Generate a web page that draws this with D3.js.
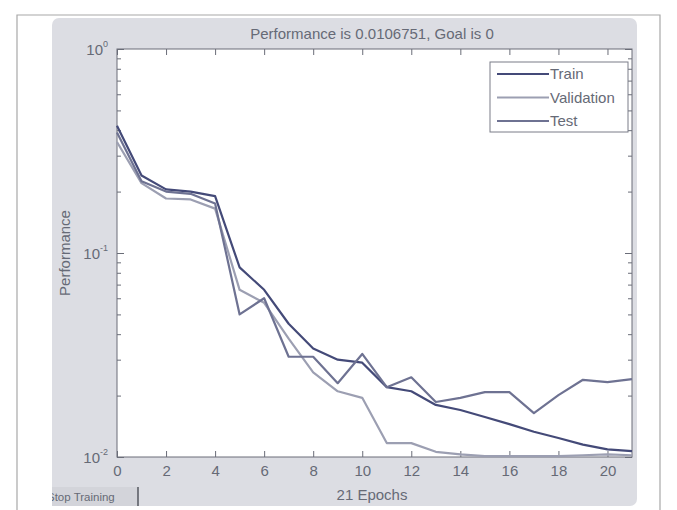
<!DOCTYPE html>
<html>
<head>
<meta charset="utf-8">
<script src="https://cdn.jsdelivr.net/npm/d3@7"></script>
<style>
  body { margin: 0; background: #fff; }
  text { font-family: "Liberation Sans", Arial, sans-serif; fill: #666a76; }
</style>
</head>
<body>
<div class="main"></div>
<script>
// data
const epochs = d3.range(0, 22);
const train = [0.42, 0.24, 0.205, 0.2, 0.19, 0.085, 0.066, 0.045, 0.034, 0.030, 0.029, 0.022, 0.021, 0.018, 0.017, 0.0157, 0.0145, 0.0133, 0.0124, 0.0115, 0.0109, 0.0106751];
const validation = [0.35, 0.22, 0.185, 0.183, 0.165, 0.066, 0.057, 0.038, 0.026, 0.021, 0.0195, 0.0117, 0.0117, 0.0106, 0.0103, 0.0101, 0.0101, 0.0101, 0.0101, 0.0102, 0.0103, 0.0102];
const test = [0.39, 0.225, 0.2, 0.195, 0.175, 0.05, 0.06, 0.031, 0.031, 0.023, 0.032, 0.022, 0.0246, 0.0186, 0.0195, 0.0208, 0.0208, 0.0164, 0.0201, 0.0239, 0.0233, 0.0241];
const seriesNames = ["Train", "Validation", "Test"];
const seriesColors = ["#444a78", "#9c9fb2", "#6e7292"];
const xTicks = [0, 2, 4, 6, 8, 10, 12, 14, 16, 18, 20];
const yMajor = [1, 0.1, 0.01];
const yMajorExp = ["0", "-1", "-2"];

const w = 677, h = 510;
const pLeft = 117, pRight = 632, pTop = 49, pBottom = 457;

const xScale = d3.scaleLinear().domain([0, 21]).range([pLeft, pRight]);
const yScale = d3.scaleLog().domain([0.01, 1]).range([pBottom, pTop]);

const svg = d3.select(".main")
  .append("svg")
  .attr("width", w)
  .attr("height", h);

// outer frame of the scan
svg.append("path")
  .attr("d", "M17,510 L17,15 L660,15 L660,510")
  .attr("fill", "none")
  .attr("stroke", "#a8a8a8")
  .attr("stroke-width", 1.2);

// grey figure panel
svg.append("rect")
  .attr("x", 52).attr("y", 18)
  .attr("width", 585).attr("height", 488)
  .attr("rx", 7)
  .attr("fill", "#dcdde3");

// plot area
svg.append("rect")
  .attr("x", pLeft).attr("y", pTop)
  .attr("width", pRight - pLeft).attr("height", pBottom - pTop)
  .attr("fill", "#fff")
  .attr("stroke", "#6a6d78")
  .attr("stroke-width", 1);

// x axis (bottom with labels, top without)
const xAxis = d3.axisBottom(xScale).tickValues(xTicks).tickSize(-6).tickPadding(8).tickFormat(d3.format("d"));
const gx = svg.append("g")
  .attr("transform", "translate(0," + pBottom + ")")
  .call(xAxis);
gx.selectAll("text").attr("font-size", 15).attr("font-family", null).style("fill", "#666a76");

svg.append("g")
  .attr("transform", "translate(0," + pTop + ")")
  .call(d3.axisTop(xScale).tickValues(xTicks).tickSize(-6).tickFormat(""));

// y axis minor/major ticks both sides
const yMinor = [];
[0.01, 0.1].forEach(b => { for (let k = 2; k <= 9; k++) yMinor.push(b * k); });
svg.append("g").attr("transform", "translate(" + pLeft + ",0)")
  .call(d3.axisLeft(yScale).tickValues(yMinor).tickSize(-4).tickFormat(""));
svg.append("g").attr("transform", "translate(" + pLeft + ",0)")
  .call(d3.axisLeft(yScale).tickValues(yMajor).tickSize(-7).tickFormat(""));
svg.append("g").attr("transform", "translate(" + pRight + ",0)")
  .call(d3.axisRight(yScale).tickValues(yMinor).tickSize(-4).tickFormat(""));
svg.append("g").attr("transform", "translate(" + pRight + ",0)")
  .call(d3.axisRight(yScale).tickValues(yMajor).tickSize(-7).tickFormat(""));

svg.selectAll(".domain").remove();
svg.selectAll(".tick line").attr("stroke", "#6a6d78");

// y tick labels 10^n
const ylab = svg.append("g").selectAll("text")
  .data(yMajor)
  .enter()
  .append("text")
  .attr("x", pLeft - 9)
  .attr("y", d => yScale(d) + 6)
  .attr("text-anchor", "end")
  .attr("font-size", 15);
ylab.append("tspan").text("10");
ylab.append("tspan")
  .attr("dy", -8)
  .attr("font-size", 9)
  .text((d, i) => yMajorExp[i]);

// lines
const allSeries = [train, validation, test];
const line = d3.line()
  .x((d, i) => xScale(epochs[i]))
  .y(d => yScale(d));

svg.append("g")
  .selectAll("path")
  .data(allSeries)
  .enter()
  .append("path")
  .attr("d", d => line(d))
  .attr("fill", "none")
  .attr("stroke", (d, i) => seriesColors[i])
  .attr("stroke-width", 2.2)
  .attr("stroke-linejoin", "round");

// legend
const lg = svg.append("g");
lg.append("rect")
  .attr("x", 490).attr("y", 62)
  .attr("width", 138).attr("height", 70)
  .attr("fill", "#fff")
  .attr("stroke", "#7a7d88");
seriesNames.forEach((name, i) => {
  const yy = 74 + i * 23.5;
  lg.append("line")
    .attr("x1", 497).attr("x2", 549)
    .attr("y1", yy).attr("y2", yy)
    .attr("stroke", seriesColors[i])
    .attr("stroke-width", 2.2);
  lg.append("text")
    .attr("x", 550).attr("y", yy + 5)
    .attr("font-size", 15)
    .text(name);
});

// titles
svg.append("text")
  .attr("x", 372).attr("y", 39)
  .attr("text-anchor", "middle")
  .attr("font-size", 15)
  .text("Performance is 0.0106751, Goal is 0");

svg.append("text")
  .attr("x", 372).attr("y", 500)
  .attr("text-anchor", "middle")
  .attr("font-size", 15)
  .text("21 Epochs");

svg.append("text")
  .attr("transform", "translate(70," + ((pTop + pBottom) / 2) + ") rotate(-90)")
  .attr("text-anchor", "middle")
  .attr("font-size", 15)
  .text("Performance");

// stop training button, clipped on the left
svg.append("clipPath").attr("id", "btnclip")
  .append("rect").attr("x", 52).attr("y", 486).attr("width", 86).attr("height", 20);
const btn = svg.append("g").attr("clip-path", "url(#btnclip)");
btn.append("rect")
  .attr("x", 40).attr("y", 487)
  .attr("width", 98).attr("height", 19)
  .attr("fill", "#d3d4da");
btn.append("text")
  .attr("x", 47).attr("y", 501)
  .attr("font-size", 11.5)
  .text("Stop Training");
svg.append("line")
  .attr("x1", 138).attr("x2", 138)
  .attr("y1", 487).attr("y2", 506)
  .attr("stroke", "#55575f")
  .attr("stroke-width", 1.5);
</script>
</body>
</html>
